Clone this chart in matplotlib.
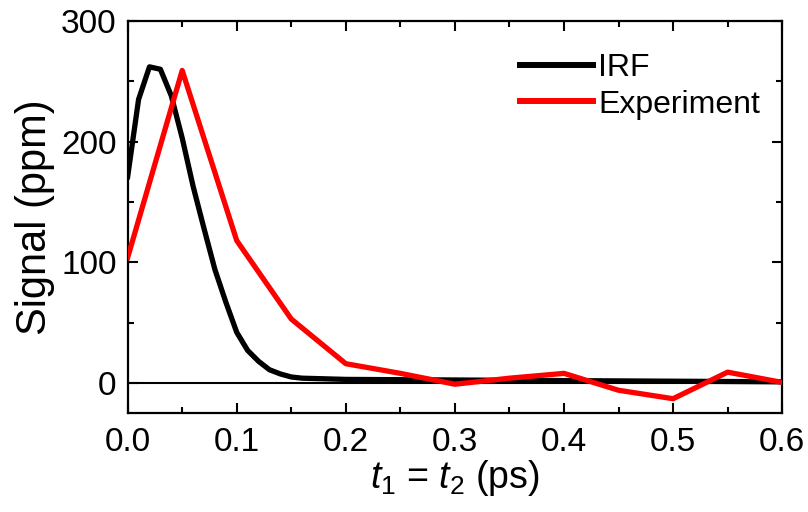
import matplotlib
matplotlib.use("Agg")
import matplotlib.pyplot as plt
from matplotlib.ticker import MultipleLocator

plt.rcParams['font.family'] = ['Liberation Sans', 'DejaVu Sans']
plt.rcParams['mathtext.fontset'] = 'custom'
plt.rcParams['mathtext.rm'] = 'Liberation Sans'
plt.rcParams['mathtext.it'] = 'Liberation Sans:italic'

# IRF curve
irf_t = [0.00, 0.01, 0.02, 0.03, 0.04, 0.05, 0.06, 0.07, 0.08, 0.09,
         0.10, 0.11, 0.12, 0.13, 0.14, 0.15, 0.16, 0.18, 0.20, 0.30,
         0.40, 0.50, 0.60]
irf_signal = [171, 235, 262, 260, 238, 203, 163, 128, 94, 67,
              42, 27, 18, 11, 7.5, 5, 4, 3.5, 3, 2.5,
              2, 1.5, 1]

# Experiment points
exp_t = [0.00, 0.05, 0.10, 0.15, 0.20, 0.25, 0.30, 0.35, 0.40, 0.45,
         0.50, 0.55, 0.60]
exp_signal = [104, 259, 118, 53, 16, 8, -1, 4, 8, -6, -13, 9, 0.5]

fig = plt.figure(figsize=(8.08, 5.12), dpi=100)
ax = fig.add_axes([0.158, 0.193, 0.81, 0.766])

ax.axhline(0, color='black', lw=1.5, zorder=1)
ax.plot(irf_t, irf_signal, color='black', lw=3.8, label='IRF', zorder=3)
ax.plot(exp_t, exp_signal, color='#ff0000', lw=3.8, label='Experiment', zorder=4)

ax.set_xlim(0, 0.6)
ax.set_ylim(-25, 300)
ax.xaxis.set_major_locator(MultipleLocator(0.1))
ax.xaxis.set_minor_locator(MultipleLocator(0.05))
ax.yaxis.set_major_locator(MultipleLocator(100))
ax.yaxis.set_minor_locator(MultipleLocator(50))
ax.xaxis.set_major_formatter(plt.FuncFormatter(lambda v, p: f"{v:.1f}"))

ax.tick_params(which='both', direction='in', top=True, right=True, width=1.5,
               labelsize=24)
ax.tick_params(which='major', length=7)
ax.tick_params(axis='x', which='major', pad=10)
ax.tick_params(axis='y', which='major', pad=8)
ax.tick_params(which='minor', length=4.5)
for s in ax.spines.values():
    s.set_linewidth(1.6)

ax.set_xlabel(r'$t_1$ = $t_2$ (ps)', fontsize=27, labelpad=0)
ax.set_ylabel('Signal (ppm)', fontsize=30, labelpad=4)

leg = ax.legend(loc='upper right', bbox_to_anchor=(1.0, 0.975), frameon=False,
                fontsize=23, handlelength=2.3, handletextpad=0.15,
                labelspacing=0.2, borderaxespad=0.3)
for line in leg.get_lines():
    line.set_linewidth(4.3)

fig.savefig('out.png', dpi=100)
